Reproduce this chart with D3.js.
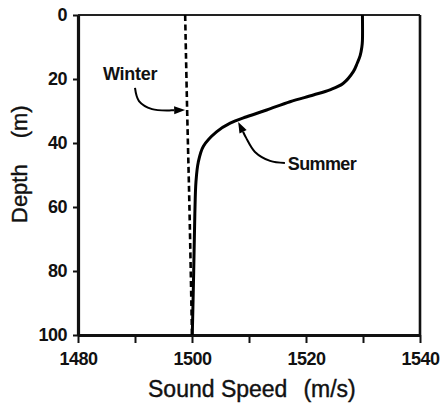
<!DOCTYPE html>
<html><head><meta charset="utf-8">
<script src="https://cdn.jsdelivr.net/npm/d3@7"></script>
<style>
html,body{margin:0;padding:0;background:#fff;}
text{font-family:"Liberation Sans",Arial,Helvetica,sans-serif;fill:#111;}
</style></head>
<body><svg id="chart" width="444" height="407"></svg>
<script>
// ---- data ----
const summerDepth = [0, 8, 10, 12.7, 15, 17.7, 21.4, 23.4, 25, 27.1, 29.7, 31.8, 33.8, 36.5, 41, 46, 52, 62, 80, 100];
const summerSpeed = [1529.9, 1529.9, 1529.8, 1529.5, 1529.0, 1528.3, 1526.5, 1524.2, 1521.3, 1517.2, 1513.1, 1509.6, 1506.7, 1504.3, 1502.0, 1501.1, 1500.7, 1500.5, 1500.3, 1500.05];
const winterDepth = [0, 30, 60, 100];
const winterSpeed = [1498.8, 1499.15, 1499.55, 1500.0];
const xTicks = [1480, 1490, 1500, 1510, 1520, 1530, 1540];
const xTickLabels = [1480, 1500, 1520, 1540];
const yTicks = [0, 20, 40, 60, 80, 100];
// annotation anchors in data units [speed, depth]
const winterLabel = {text: "Winter", at: [1484.4, 20.3]};
const winterArrow = [[1490.0, 22.8], [1490.7, 26.9], [1493.0, 29.4], [1496.5, 29.8], [1498.8, 29.7]];
const summerLabel = {text: "Summer", at: [1516.8, 48.4]};
const summerArrow = [[1516.3, 46.25], [1513.7, 45.6], [1511.05, 42.8], [1509.5, 38.4], [1508.1, 33.4]];

// ---- layout ----
const W = 444, H = 407;
const m = {left: 78, top: 15, right: 24, bottom: 72};
const svg = d3.select("#chart");
const x = d3.scaleLinear().domain([1480, 1540]).range([m.left, W - m.right]);
const y = d3.scaleLinear().domain([0, 100]).range([m.top, H - m.bottom]);

// frame top/right
svg.append("line").attr("x1", x(1480)).attr("x2", x(1540)).attr("y1", y(0)).attr("y2", y(0))
  .attr("stroke", "#222").attr("stroke-width", 2.2);
svg.append("line").attr("x1", x(1540)).attr("x2", x(1540)).attr("y1", y(0)).attr("y2", y(100))
  .attr("stroke", "#111").attr("stroke-width", 2.6);

// x axis
const xAxis = svg.append("g").attr("transform", `translate(0,${y(100)})`)
  .call(d3.axisBottom(x).tickValues(xTicks).tickSize(8).tickSizeOuter(0)
    .tickFormat(d => xTickLabels.includes(d) ? d : ""));
xAxis.select(".domain").attr("stroke", "#111").attr("stroke-width", 3);
xAxis.selectAll(".tick line").attr("stroke", "#111").attr("stroke-width", 2);
xAxis.selectAll(".tick text").attr("font-size", 18).attr("font-weight", "bold")
  .attr("font-family", "Liberation Sans, Arial, sans-serif").attr("fill", "#111")
  .attr("dy", null).attr("y", 30).attr("letter-spacing", -0.5);

// y axis
const yAxis = svg.append("g").attr("transform", `translate(${x(1480)},0)`)
  .call(d3.axisLeft(y).tickValues(yTicks).tickSize(5).tickSizeOuter(0).tickPadding(6));
yAxis.select(".domain").attr("stroke", "#111").attr("stroke-width", 3.2);
yAxis.selectAll(".tick line").attr("stroke", "#111").attr("stroke-width", 2);
yAxis.selectAll(".tick text").attr("font-size", 18).attr("font-weight", "bold")
  .attr("font-family", "Liberation Sans, Arial, sans-serif").attr("fill", "#111")
  .attr("letter-spacing", -0.5);

// lines
const line = d3.line().x(d => x(d[0])).y(d => y(d[1])).curve(d3.curveCatmullRom.alpha(0.5));
svg.append("path").datum(summerSpeed.map((s, i) => [s, summerDepth[i]]))
  .attr("d", line).attr("fill", "none").attr("stroke", "#000").attr("stroke-width", 3);
svg.append("path").datum(winterSpeed.map((s, i) => [s, winterDepth[i]]))
  .attr("d", line).attr("fill", "none").attr("stroke", "#000").attr("stroke-width", 2.6)
  .attr("stroke-dasharray", "6,3.5");

// annotations
function arrow(pts) {
  const p = pts.map(d => [x(d[0]), y(d[1])]);
  const tip = p[p.length - 1], prev = p[p.length - 2];
  const ang = Math.atan2(tip[1] - prev[1], tip[0] - prev[0]);
  const L = 11, hw = 4;
  const bx = tip[0] - L * Math.cos(ang), by = tip[1] - L * Math.sin(ang);
  const body = p.slice(0, -1).concat([[bx, by]]);
  svg.append("path").attr("d", d3.line().curve(d3.curveCatmullRom)(body))
    .attr("fill", "none").attr("stroke", "#000").attr("stroke-width", 2);
  const nx = -Math.sin(ang), ny = Math.cos(ang);
  svg.append("path").attr("d", `M${tip[0]},${tip[1]}L${bx + nx * hw},${by + ny * hw}L${bx - nx * hw},${by - ny * hw}Z`)
    .attr("fill", "#000");
}
arrow(winterArrow);
arrow(summerArrow);
svg.append("text").attr("x", x(winterLabel.at[0])).attr("y", y(winterLabel.at[1]))
  .attr("font-size", 18).attr("font-weight", "bold").attr("letter-spacing", -0.3).text(winterLabel.text);
svg.append("text").attr("x", x(summerLabel.at[0])).attr("y", y(summerLabel.at[1]))
  .attr("font-size", 18).attr("font-weight", "bold").attr("letter-spacing", -0.6).text(summerLabel.text);

// axis titles
const xt = svg.append("text").attr("x", 148).attr("y", 397).attr("font-size", 23)
  .attr("stroke", "#111").attr("stroke-width", 0.4);
xt.append("tspan").text("Sound Speed");
xt.append("tspan").attr("dx", 16).text("(m/s)");
const yt = svg.append("text").attr("transform", "translate(27,223) rotate(-90)").attr("font-size", 22)
  .attr("stroke", "#111").attr("stroke-width", 0.4);
yt.append("tspan").text("Depth");
yt.append("tspan").attr("dx", 26).text("(m)");
</script></body></html>
